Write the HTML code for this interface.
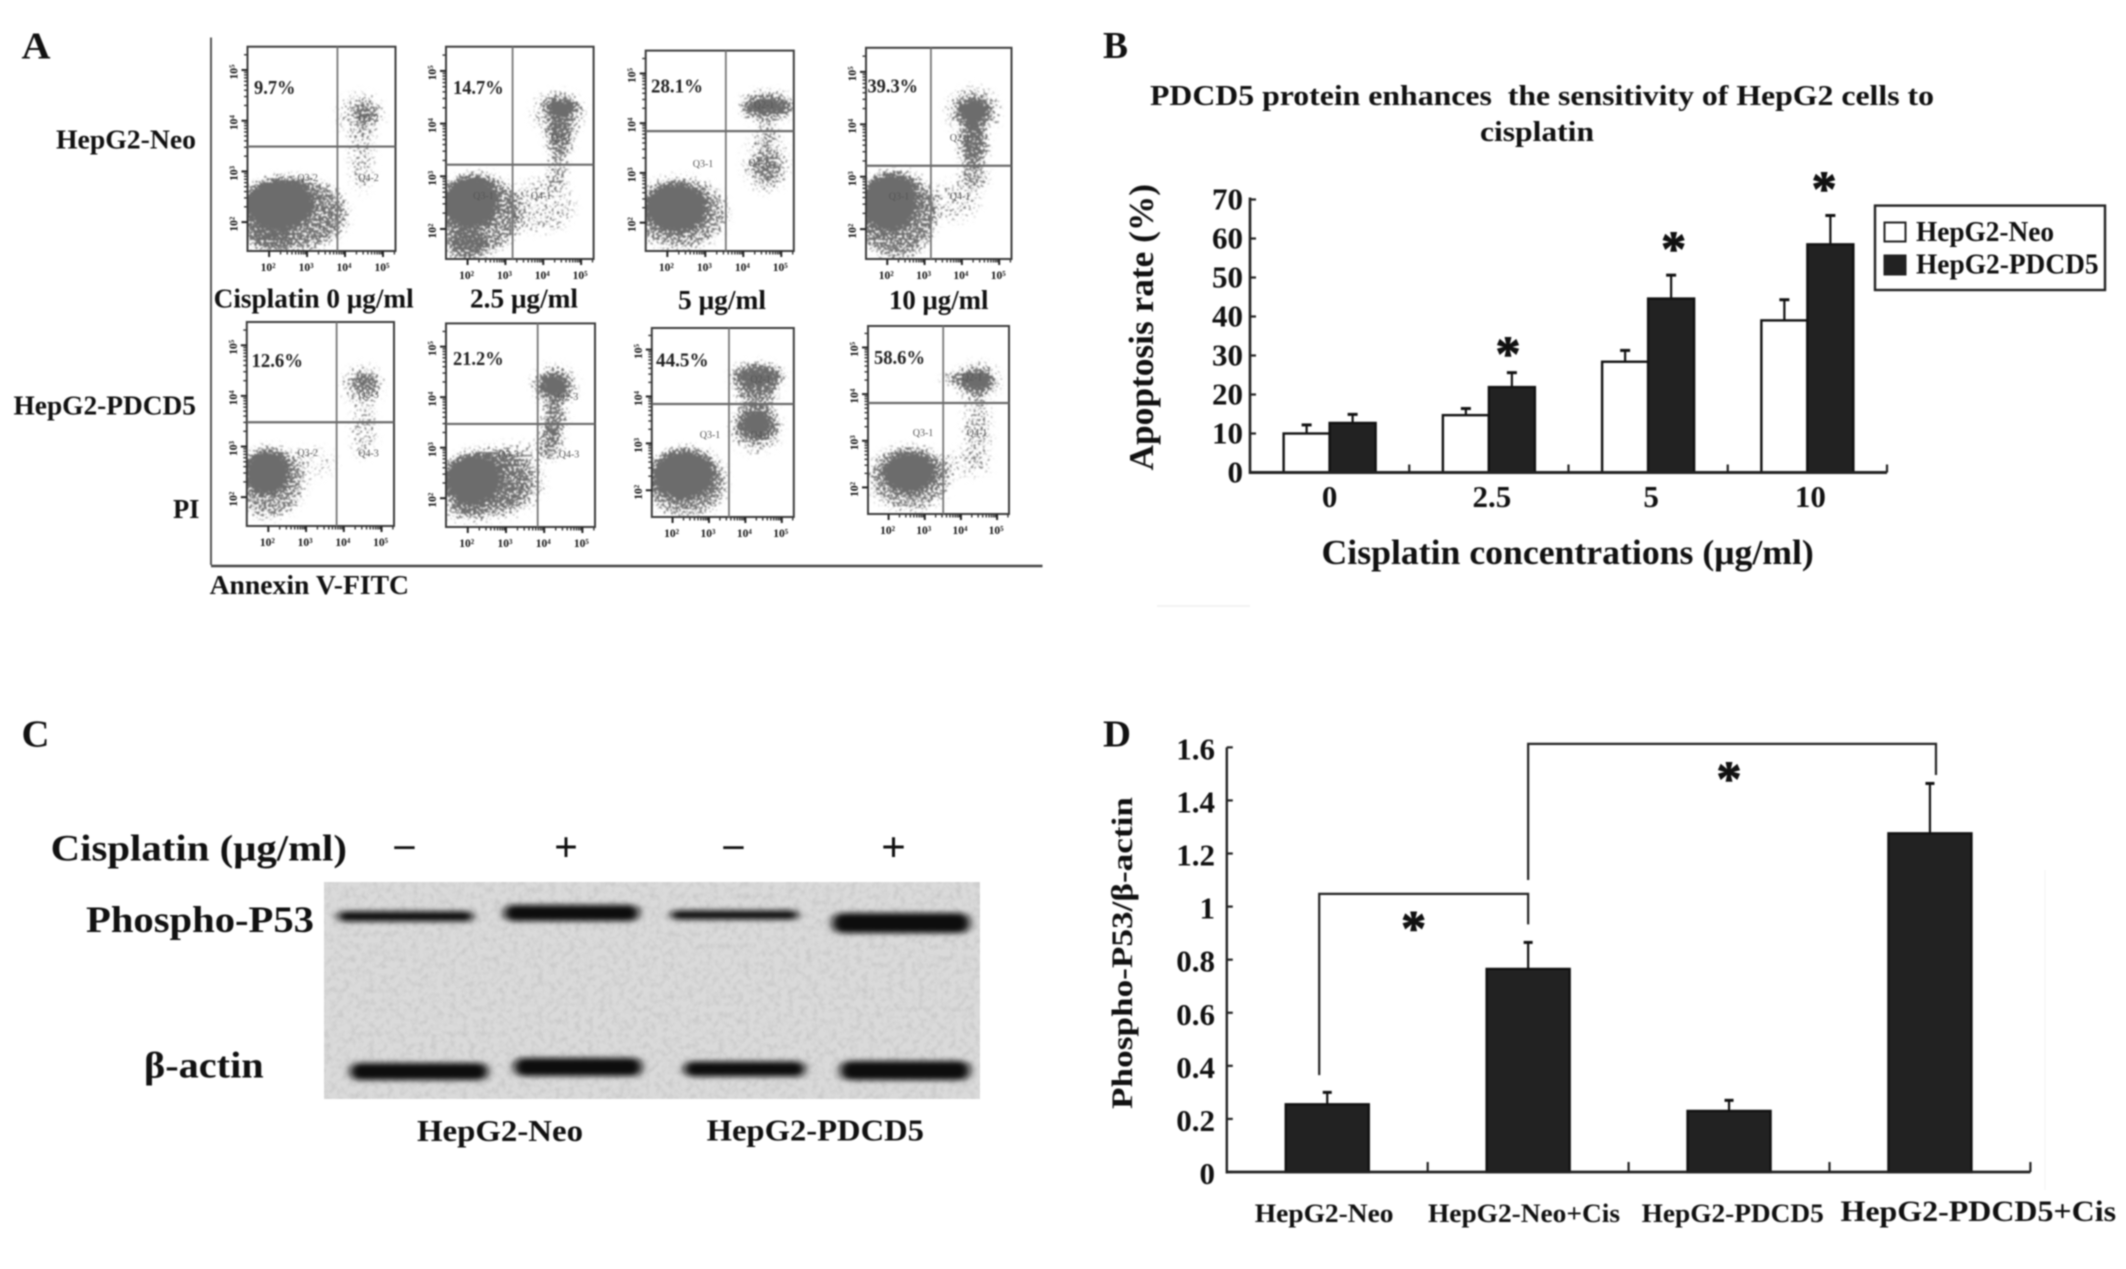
<!DOCTYPE html>
<html lang="en">
<head>
<meta charset="utf-8">
<title>PDCD5 cisplatin figure</title>
<style>
html,body{margin:0;padding:0;background:#fff;}
body{width:2126px;height:1269px;overflow:hidden;}
#figure{display:block;filter:blur(0.7px);}
text{font-family:"Liberation Serif","Noto Serif CJK SC",serif;font-weight:bold;fill:#111;}
.a-lab{font-size:27px;}
.pct{font-size:20px;fill:#222;}
.q{font-size:10px;fill:#555;text-anchor:middle;font-weight:normal;}
.panel{font-size:38px;}
.tick{font-size:31px;}
.c-lab{font-size:37px;}
.d-x{font-size:26px;}
</style>
</head>
<body>
<svg id="figure" xmlns="http://www.w3.org/2000/svg" width="2126" height="1269" viewBox="0 0 2126 1269">
  <defs>
    <filter id="flow-speckle" x="-15%" y="-15%" width="130%" height="130%" color-interpolation-filters="sRGB">
      <feGaussianBlur in="SourceGraphic" stdDeviation="4.5" result="soft"/>
      <feTurbulence type="fractalNoise" baseFrequency="0.42" numOctaves="2" seed="7" result="noise"/>
      <feColorMatrix in="noise" type="matrix" values="0 0 0 0 0  0 0 0 0 0  0 0 0 0 0  2.6 0 0 0 -0.8" result="noiseAlpha"/>
      <feComposite in="soft" in2="noiseAlpha" operator="arithmetic" k1="0" k2="1.4" k3="1" k4="-1" result="mix"/>
      <feComponentTransfer in="mix" result="mask"><feFuncA type="linear" slope="4" intercept="0"/></feComponentTransfer>
      <feFlood flood-color="#6c6c6c" result="ink"/>
      <feComposite in="ink" in2="mask" operator="in" result="dots"/>
      <feGaussianBlur in="dots" stdDeviation="0.5"/>
    </filter>
    <filter id="band-blur" x="-20%" y="-100%" width="140%" height="300%">
      <feGaussianBlur stdDeviation="4.5 2.6"/>
    </filter>
    <filter id="blot-noise" x="0" y="0" width="100%" height="100%" color-interpolation-filters="sRGB">
      <feTurbulence type="fractalNoise" baseFrequency="0.16" numOctaves="3" seed="4"/>
      <feColorMatrix type="matrix" values="0 0 0 0 0.4  0 0 0 0 0.4  0 0 0 0 0.4  0.32 0 0 0 -0.13"/>
    </filter>
  </defs>

  <!-- Panel letters -->
  <text class="panel" x="21.5" y="58.5" textLength="29" lengthAdjust="spacingAndGlyphs">A</text>
  <text class="panel" x="1103" y="58" textLength="25" lengthAdjust="spacingAndGlyphs">B</text>
  <text class="panel" x="21.5" y="746.5" textLength="28" lengthAdjust="spacingAndGlyphs">C</text>
  <text class="panel" x="1103" y="746.5" textLength="28" lengthAdjust="spacingAndGlyphs">D</text>

  <!-- Panel A frame and labels -->
  <g id="panel-a">
    <line x1="211" y1="37.5" x2="211" y2="565" stroke="#555" stroke-width="2"/>
    <line x1="211" y1="566" x2="1042.5" y2="566" stroke="#444" stroke-width="2.5"/>
    <text class="a-lab" x="56" y="148.7" textLength="140" lengthAdjust="spacingAndGlyphs">HepG2-Neo</text>
    <text class="a-lab" x="13.5" y="414.4" textLength="182.5" lengthAdjust="spacingAndGlyphs">HepG2-PDCD5</text>
    <text class="a-lab" x="213.7" y="307.6" textLength="200" lengthAdjust="spacingAndGlyphs">Cisplatin 0 μg/ml</text>
    <text class="a-lab" x="470" y="307.6" textLength="108" lengthAdjust="spacingAndGlyphs">2.5 μg/ml</text>
    <text class="a-lab" x="678" y="308.8" textLength="88" lengthAdjust="spacingAndGlyphs">5 μg/ml</text>
    <text class="a-lab" x="889" y="308.8" textLength="99.5" lengthAdjust="spacingAndGlyphs">10 μg/ml</text>
    <text class="a-lab" x="173" y="518" textLength="26.5" lengthAdjust="spacingAndGlyphs">PI</text>
    <text class="a-lab" x="209.6" y="594" textLength="199.4" lengthAdjust="spacingAndGlyphs">Annexin V-FITC</text>
  </g>
  <g id="flow-plots"></g>
  <g>
    <text class="q" x="368.5" y="121.6">Q2-2</text>
    <text class="q" x="307.6" y="181">Q3-2</text>
    <text class="q" x="368.5" y="181">Q4-2</text>
    <text class="q" x="561" y="141">Q2-1</text>
    <text class="q" x="483.4" y="199">Q3-1</text>
    <text class="q" x="541" y="199">Q4-1</text>
    <text class="q" x="764" y="108">Q2-1</text>
    <text class="q" x="703" y="167">Q3-1</text>
    <text class="q" x="758.6" y="166">Q4-1</text>
    <text class="q" x="960" y="141">Q2-1</text>
    <text class="q" x="899" y="199.5">Q3-1</text>
    <text class="q" x="960" y="199.5">Q4-1</text>
    <text class="q" x="368.5" y="398">Q2-3</text>
    <text class="q" x="307.6" y="456">Q3-2</text>
    <text class="q" x="368.5" y="456.5">Q4-3</text>
    <text class="q" x="568" y="400">Q2-3</text>
    <text class="q" x="508.5" y="457.7">Q3-3</text>
    <text class="q" x="569" y="457.7">Q4-3</text>
    <text class="q" x="760.6" y="382.6">Q2-1</text>
    <text class="q" x="710" y="438">Q3-1</text>
    <text class="q" x="760.6" y="438">Q4-1</text>
    <text class="q" x="972" y="380.6">Q2-1</text>
    <text class="q" x="923" y="436">Q3-1</text>
    <text class="q" x="977" y="436">Q4-1</text>
  </g>

  <!-- Panel B static text -->
  <g>
    <text font-size="29" x="1150" y="104.8" textLength="784" lengthAdjust="spacingAndGlyphs" xml:space="preserve">PDCD5 protein enhances  the sensitivity of HepG2 cells to</text>
    <text font-size="29" x="1480" y="141" textLength="114" lengthAdjust="spacingAndGlyphs">cisplatin</text>
    <text font-size="35" transform="translate(1153,470.5) rotate(-90)" textLength="286.5" lengthAdjust="spacingAndGlyphs">Apoptosis rate (%)</text>
    <text font-size="35" x="1321.5" y="564" textLength="492.3" lengthAdjust="spacingAndGlyphs">Cisplatin concentrations (μg/ml)</text>
    <rect x="1875" y="205.6" width="230" height="84.4" fill="#fff" stroke="#222" stroke-width="2.4"/>
    <rect x="1884.5" y="222.5" width="21" height="19" fill="#fff" stroke="#222" stroke-width="2"/>
    <rect x="1884.5" y="255.5" width="21" height="19" fill="#222" stroke="#222" stroke-width="2"/>
    <text font-size="28" x="1916" y="241" textLength="138" lengthAdjust="spacingAndGlyphs">HepG2-Neo</text>
    <text font-size="28" x="1916" y="273.6" textLength="182.6" lengthAdjust="spacingAndGlyphs">HepG2-PDCD5</text>
    <line x1="1157" y1="606" x2="1250" y2="606" stroke="#f3f3f3" stroke-width="2"/>
  </g>
  <g id="chart-b"></g>

  <!-- Panel C -->
  <g id="panel-c">
    <rect x="324" y="882" width="656" height="217" fill="#dadada"/>
    <rect x="324" y="882" width="656" height="217" filter="url(#blot-noise)"/>
    <g id="blot-bands"></g>
    <text class="c-lab" x="50.7" y="860.6" textLength="296.3" lengthAdjust="spacingAndGlyphs">Cisplatin (μg/ml)</text>
    <text font-size="40" x="392" y="861" textLength="25" lengthAdjust="spacingAndGlyphs">−</text>
    <text font-size="42" x="554" y="861" textLength="24" lengthAdjust="spacingAndGlyphs">+</text>
    <text font-size="40" x="721" y="861" textLength="25" lengthAdjust="spacingAndGlyphs">−</text>
    <text font-size="42" x="881" y="861" textLength="25" lengthAdjust="spacingAndGlyphs">+</text>
    <text class="c-lab" x="86" y="932" textLength="228" lengthAdjust="spacingAndGlyphs">Phospho-P53</text>
    <text class="c-lab" x="144" y="1077.7" textLength="119.7" lengthAdjust="spacingAndGlyphs">β-actin</text>
    <text font-size="31" x="417" y="1141" textLength="166" lengthAdjust="spacingAndGlyphs">HepG2-Neo</text>
    <text font-size="31" x="706.6" y="1140.5" textLength="217.4" lengthAdjust="spacingAndGlyphs">HepG2-PDCD5</text>
  </g>

  <!-- Panel D static text -->
  <g>
    <text font-size="30" transform="translate(1132,1109) rotate(-90)" textLength="312" lengthAdjust="spacingAndGlyphs">Phospho-P53/β-actin</text>
    <text class="d-x" x="1254.8" y="1221.8" textLength="138.7" lengthAdjust="spacingAndGlyphs">HepG2-Neo</text>
    <text class="d-x" x="1428" y="1221.8" textLength="192" lengthAdjust="spacingAndGlyphs">HepG2-Neo+Cis</text>
    <text class="d-x" x="1641.7" y="1221.8" textLength="182.1" lengthAdjust="spacingAndGlyphs">HepG2-PDCD5</text>
    <text font-size="30" x="1840.5" y="1221" textLength="275.5" lengthAdjust="spacingAndGlyphs">HepG2-PDCD5+Cis</text>
    <line x1="2045" y1="870" x2="2045" y2="1190" stroke="#f6f6f6" stroke-width="1.5"/>
  </g>
  <g id="chart-d"></g>
</svg>

<script>
/* ---------- Panel A data: flow cytometry percentages and density clusters ---------- */
const apoptosisPercents = ['9.7%', '14.7%', '28.1%', '39.3%', '12.6%', '21.2%', '44.5%', '58.6%'];
const decadeExponents = [2, 3, 4, 5];
const minorMultipliers = [2, 3, 4, 5, 6, 7, 8, 9];
/* each row: log10 Annexin, log10 PI, spread Annexin, spread PI, density */
const neo0Clusters = [[2.60,2.15,1.50,0.75,0.3],[2.57,2.17,1.42,0.70,0.35],[2.03,1.70,0.60,0.30,0.40],[2.25,2.37,0.89,0.48,1],[4.4,4.1,0.60,0.45,0.22],[4.53,4.16,0.36,0.20,0.5],[4.44,3.26,0.30,0.70,0.26]];
const neo25Clusters = [[2.33,2.29,1.07,0.75,0.5],[1.97,1.69,0.55,0.28,0.6],[2.06,2.52,0.72,0.49,1],[4.4,4.2,0.70,0.40,0.25],[4.47,4.32,0.46,0.15,0.95],[4.44,3.82,0.35,0.45,0.6],[4.38,3.12,0.27,0.38,0.35],[3.94,2.44,0.90,0.52,0.22]];
const neo5Clusters = [[2.32,2.18,1.25,0.72,0.45],[2.23,2.30,0.80,0.48,1],[4.63,4.34,0.71,0.32,0.35],[4.63,4.34,0.66,0.16,0.9],[4.63,3.78,0.25,0.32,0.3],[4.6,3.2,0.60,0.60,0.22],[4.63,3.11,0.36,0.33,0.45]];
const neo10Clusters = [[2.23,2.29,1.08,0.83,0.55],[2.05,2.52,0.72,0.53,1],[4.31,4.25,0.72,0.45,0.3],[4.31,4.25,0.42,0.24,1],[4.31,3.61,0.36,0.40,0.7],[4.31,3.00,0.36,0.26,0.45],[3.76,2.52,0.72,0.38,0.2]];
const pdcd0Clusters = [[2.06,2.29,0.90,0.70,0.45],[1.97,2.49,0.57,0.43,1],[3.13,2.68,0.70,0.30,0.15],[4.5,4.2,0.55,0.40,0.25],[4.56,4.26,0.33,0.20,0.6],[4.53,3.31,0.32,0.55,0.26]];
const pdcd25Clusters = [[2.60,2.30,1.40,0.70,0.28],[2.49,2.31,1.20,0.60,0.45],[2.14,2.39,0.71,0.47,1],[1.96,1.76,0.53,0.23,0.35],[4.26,4.23,0.60,0.40,0.25],[4.26,4.23,0.40,0.25,0.9],[4.26,3.57,0.30,0.39,0.55],[4.17,3.10,0.30,0.31,0.5],[3.38,2.86,0.88,0.23,0.2]];
const pdcd5Clusters = [[2.38,2.17,1.10,0.72,0.5],[2.29,2.34,0.84,0.51,1],[4.33,4.46,0.70,0.22,0.8],[4.33,4.25,0.65,0.30,0.5],[4.30,3.85,0.50,0.34,0.42],[4.30,3.30,0.70,0.50,0.3],[4.30,3.39,0.52,0.30,0.85]];
const pdcd10Clusters = [[2.57,2.20,1.12,0.68,0.45],[2.57,2.32,0.71,0.42,1],[4.45,4.28,0.65,0.40,0.25],[4.45,4.28,0.44,0.23,0.95],[3.98,4.33,0.50,0.08,0.8],[4.45,3.27,0.37,0.76,0.28],[3.98,2.50,0.90,0.25,0.2]];
const allClusters = [neo0Clusters, neo25Clusters, neo5Clusters, neo10Clusters, pdcd0Clusters, pdcd25Clusters, pdcd5Clusters, pdcd10Clusters];
const quadrantGateAnnexin = [3.80, 3.19, 3.54, 3.17, 3.81, 3.83, 3.55, 3.51];
const quadrantGatePI = [3.49, 3.22, 3.84, 3.21, 3.48, 3.47, 3.84, 3.81];

/* ---------- Panel B data ---------- */
const doseCategories = ['0', '2.5', '5', '10'];
const neoRates = [10, 14.7, 28.4, 39];
const pdcd5Rates = [12.7, 21.9, 44.6, 58.5];
const neoRateErrors = [2.2, 1.7, 2.9, 5.3];
const pdcd5RateErrors = [2.2, 3.7, 6.0, 7.4];
const significanceStars = [null, 31.7, 58.6, 74];
const significanceStarShift = [0, 0.12, 0.16, 0.105];
const rateTicks = [0, 10, 20, 30, 40, 50, 60, 70];

/* ---------- Panel C data: band strength per lane ---------- */
const phosphoBandThickness = [10, 16, 9, 20];
const actinBandThickness = [17, 18, 15, 19];

/* ---------- Panel D data ---------- */
const phosphoRatios = [0.255, 0.765, 0.23, 1.276];
const phosphoErrors = [0.045, 0.1, 0.04, 0.188];
const ratioTicks = ['0', '0.2', '0.4', '0.6', '0.8', '1', '1.2', '1.4', '1.6'];
const bracketFromCategory = [-0.04, 1];
const bracketToCategory = [1, 3.03];
const bracketTopValue = [1.048, 1.613];
const bracketFromFoot = [0.365, 1.10];
const bracketToFoot = [0.933, 1.496];
const bracketStarCategory = [0.43, 2];
const bracketStarValue = [0.937, 1.5];

/* ---------- Layout ---------- */
const SVGNS = 'http://www.w3.org/2000/svg';
const plotLeft = [247.5, 446, 645.7, 866, 246.8, 446, 651.8, 868];
const plotRight = [395.5, 593.6, 793.8, 1011.5, 394, 595, 793.8, 1009];
const plotTop = [46.7, 46.7, 50.6, 47.8, 322, 323.4, 328, 326];
const plotBottom = [251, 259, 251, 259, 526, 527, 517, 514];
const pctX = [254, 453, 651, 867.5, 251.5, 453, 656, 874];
const pctY = [94, 94, 92.5, 92.5, 367, 365, 366.5, 363.8];
const pctW = [41.5, 50.7, 52, 50.5, 51.5, 50.7, 52.6, 51];
const LOG_X_MIN = 1.43, LOG_X_MAX = 5.33, LOG_Y_MIN = 1.43, LOG_Y_MAX = 5.46, LOG_Y_TICK_END = 5.32;

function add(parent, tag, attrs) {
  const el = document.createElementNS(SVGNS, tag);
  for (const k in attrs) el.setAttribute(k, attrs[k]);
  parent.appendChild(el);
  return el;
}

/* ---------- Panel A ---------- */
const plotsRoot = document.getElementById('flow-plots');
const defsRoot = document.querySelector('#figure defs');
allClusters.forEach(function (clusters, p) {
  const L = plotLeft[p], R = plotRight[p], T = plotTop[p], B = plotBottom[p];
  const xLog = function (v) { return L + (v - LOG_X_MIN) / (LOG_X_MAX - LOG_X_MIN) * (R - L); };
  const yLog = function (v) { return B - (v - LOG_Y_MIN) / (LOG_Y_MAX - LOG_Y_MIN) * (B - T); };
  const plot = add(plotsRoot, 'g', {});
  
  

  const clip = add(defsRoot, 'clipPath', { id: 'plot-clip-' + p });
  add(clip, 'rect', { x: L, y: T, width: R - L, height: B - T });
  const clipGroup = add(plot, 'g', { 'clip-path': 'url(#plot-clip-' + p + ')' });
  const cloud = add(clipGroup, 'g', { filter: 'url(#flow-speckle)' });
  
  
  add(cloud, 'rect', { x: L - 20, y: T - 20, width: R - L + 40, height: B - T + 40, fill: '#000', 'fill-opacity': 0.001 });
  clusters.forEach(function (c) {
    const e = add(cloud, 'ellipse', {
      cx: xLog(c[0]), cy: yLog(c[1]),
      rx: c[2] * (R - L) / (LOG_X_MAX - LOG_X_MIN),
      ry: c[3] * (B - T) / (LOG_Y_MAX - LOG_Y_MIN),
      fill: '#000', 'fill-opacity': c[4]
    });
    
    
  });

  const box = add(plot, 'rect', { x: L, y: T, width: R - L, height: B - T, fill: 'none', stroke: '#3c3c3c', 'stroke-width': 2 });
  
  
  const vGate = add(plot, 'line', { x1: xLog(quadrantGateAnnexin[p]), x2: xLog(quadrantGateAnnexin[p]), y1: T, y2: B, stroke: '#777', 'stroke-width': 1.8 });
  
  
  const hGate = add(plot, 'line', { x1: L, x2: R, y1: yLog(quadrantGatePI[p]), y2: yLog(quadrantGatePI[p]), stroke: '#6a6a6a', 'stroke-width': 2.2 });
  
  

  decadeExponents.forEach(function (d) {
    const xt = add(plot, 'line', { x1: xLog(d), x2: xLog(d), y1: B, y2: B + 6, stroke: '#222', 'stroke-width': 2 });
    
    
    const yt = add(plot, 'line', { x1: L - 6, x2: L, y1: yLog(d), y2: yLog(d), stroke: '#222', 'stroke-width': 2 });
    
    
    const xl = add(plot, 'text', { x: xLog(d) - 1, y: B + 20, 'text-anchor': 'middle', 'font-size': 11.5 });
    
    
    xl.textContent = '10' + { 2: '²', 3: '³', 4: '⁴', 5: '⁵' }[d];
    const yl = add(plot, 'text', { transform: 'translate(' + (L - 10) + ',' + (yLog(d) + 2) + ') rotate(-90)', 'text-anchor': 'middle', 'font-size': 11.5 });
    
    
    yl.textContent = '10' + { 2: '²', 3: '³', 4: '⁴', 5: '⁵' }[d];
    minorMultipliers.forEach(function (m) {
      const v = d + Math.log10(m);
      if (v < LOG_X_MAX) {
        const mx = add(plot, 'line', { x1: xLog(v), x2: xLog(v), y1: B, y2: B + 3.5, stroke: '#333', 'stroke-width': 1.4 });
        
        
      }
      if (v < LOG_Y_TICK_END) {
        const my = add(plot, 'line', { x1: L - 3.5, x2: L, y1: yLog(v), y2: yLog(v), stroke: '#333', 'stroke-width': 1.4 });
        
        
      }
    });
  });

  const pct = add(plot, 'text', { x: pctX[p], y: pctY[p], textLength: pctW[p], lengthAdjust: 'spacingAndGlyphs', class: 'pct' });
  
  
  pct.textContent = apoptosisPercents[p];
});

/* ---------- Panel B ---------- */
const B_X0 = 1250, B_BAND = 159.25, B_Y0 = 472.5, B_PER_UNIT = 3.9, B_BAR = 46;
const bx = function (i) { return B_X0 + (i + 0.5) * B_BAND; };
const by = function (v) { return B_Y0 - v * B_PER_UNIT; };
const chartB = document.getElementById('chart-b');

function drawBar(parent, x, w, top, base, fill) {
  return add(parent, 'rect', { x: x, y: top, width: w, height: base - top, fill: fill, stroke: '#111', 'stroke-width': 2.4 });
}
function drawError(parent, cx, yFrom, yTo, cap) {
  const g = add(parent, 'g', { stroke: '#111', 'stroke-width': 2.2 });
  add(g, 'line', { x1: cx, x2: cx, y1: yFrom, y2: yTo });
  add(g, 'line', { x1: cx - cap, x2: cx + cap, y1: yTo, y2: yTo, 'stroke-width': 3 });
  return g;
}
function drawStar(parent, cx, cy) {
  const s = add(parent, 'text', { x: cx, y: cy + 21, 'text-anchor': 'middle', 'font-size': 50, stroke: '#111', 'stroke-width': 1 });
  s.textContent = '*';
  return s;
}

doseCategories.forEach(function (label, i) {
  const c = bx(i);
  const e1 = drawError(chartB, c - B_BAR / 2, by(neoRates[i]), by(neoRates[i] + neoRateErrors[i]), 5);
  
  
  const e2 = drawError(chartB, c + B_BAR / 2, by(pdcd5Rates[i]), by(pdcd5Rates[i] + pdcd5RateErrors[i]), 5);
  
  
  const b1 = drawBar(chartB, c - B_BAR, B_BAR, by(neoRates[i]), B_Y0, '#fff');
  
  
  const b2 = drawBar(chartB, c, B_BAR, by(pdcd5Rates[i]), B_Y0, '#222');
  
  
  const tl = add(chartB, 'text', { x: c + (i === 0 ? 0 : 3), y: 507, 'text-anchor': 'middle', class: 'tick' });
  
  
  tl.textContent = label;
  const tk = add(chartB, 'line', { x1: B_X0 + (i + 1) * B_BAND, x2: B_X0 + (i + 1) * B_BAND, y1: B_Y0, y2: B_Y0 - 8, stroke: '#222', 'stroke-width': 2.2 });
  
  
  if (significanceStars[i] !== null) {
    const st = drawStar(chartB, c + significanceStarShift[i] * B_BAND, by(significanceStars[i]));
    
    
  }
});
rateTicks.forEach(function (v) {
  const t = add(chartB, 'line', { x1: B_X0, x2: B_X0 + 6, y1: by(v), y2: by(v), stroke: '#222', 'stroke-width': 2.2 });
  
  
  const l = add(chartB, 'text', { x: 1243, y: by(v) + 10, 'text-anchor': 'end', class: 'tick' });
  
  
  l.textContent = String(v);
});
const bAxisY = add(chartB, 'line', { x1: B_X0, x2: B_X0, y1: by(70) - 2, y2: B_Y0 + 1.5, stroke: '#222', 'stroke-width': 2.6 });


const bAxisX = add(chartB, 'line', { x1: B_X0, x2: B_X0 + 4 * B_BAND, y1: B_Y0, y2: B_Y0, stroke: '#222', 'stroke-width': 3 });



/* ---------- Panel C ---------- */
const bandsRoot = document.getElementById('blot-bands');
const laneLeft = [338, 504, 671, 832];
const laneWidth = [135, 135, 127, 138];
const phosphoCenter = [916.4, 913, 915, 923];
const actinLeft = [350, 514, 684, 840];
const actinWidth = [138, 128, 121, 130];
const actinCenter = [1071.5, 1067, 1069, 1070.5];
phosphoBandThickness.forEach(function (h, i) {
  const b = add(bandsRoot, 'rect', { x: laneLeft[i], y: phosphoCenter[i] - h / 2, width: laneWidth[i], height: h, rx: h / 2, fill: '#111', filter: 'url(#band-blur)' });
  
  
});
actinBandThickness.forEach(function (h, i) {
  const b = add(bandsRoot, 'rect', { x: actinLeft[i], y: actinCenter[i] - h / 2, width: actinWidth[i], height: h, rx: h / 2, fill: '#111', filter: 'url(#band-blur)' });
  
  
});

/* ---------- Panel D ---------- */
const D_X0 = 1226.8, D_BAND = 200.9, D_Y0 = 1172, D_PER_UNIT = 265.4, D_BAR = 83;
const dx = function (i) { return D_X0 + (i + 0.5) * D_BAND; };
const dy = function (v) { return D_Y0 - v * D_PER_UNIT; };
const chartD = document.getElementById('chart-d');

phosphoRatios.forEach(function (v, i) {
  const c = dx(i);
  const e = drawError(chartD, c, dy(v), dy(v + phosphoErrors[i]), 4.5);
  
  
  const b = drawBar(chartD, c - D_BAR / 2, D_BAR, dy(v), D_Y0, '#222');
  
  
  const tk = add(chartD, 'line', { x1: D_X0 + (i + 1) * D_BAND, x2: D_X0 + (i + 1) * D_BAND, y1: D_Y0, y2: D_Y0 - 10, stroke: '#222', 'stroke-width': 2.2 });
  
  
});
ratioTicks.forEach(function (label) {
  const y = dy(parseFloat(label));
  const t = add(chartD, 'line', { x1: D_X0, x2: D_X0 + 6, y1: y, y2: y, stroke: '#222', 'stroke-width': 2.2 });
  
  
  const l = add(chartD, 'text', { x: 1215, y: y + 12, 'text-anchor': 'end', class: 'tick' });
  
  
  l.textContent = label;
});
const dAxisY = add(chartD, 'line', { x1: D_X0, x2: D_X0, y1: dy(1.6), y2: D_Y0 + 1.5, stroke: '#222', 'stroke-width': 2.4 });


const dAxisX = add(chartD, 'line', { x1: D_X0, x2: D_X0 + 4 * D_BAND, y1: D_Y0, y2: D_Y0, stroke: '#222', 'stroke-width': 2.8 });


bracketTopValue.forEach(function (top, i) {
  const x1 = dx(bracketFromCategory[i]), x2 = dx(bracketToCategory[i]);
  const pts = [x1 + ',' + dy(bracketFromFoot[i]), x1 + ',' + dy(top), x2 + ',' + dy(top), x2 + ',' + dy(bracketToFoot[i])].join(' ');
  const br = add(chartD, 'polyline', { points: pts, fill: 'none', stroke: '#222', 'stroke-width': 2.2 });
  
  
  const st = drawStar(chartD, dx(bracketStarCategory[i]), dy(bracketStarValue[i]));
  
  
});
</script>
</body>
</html>
